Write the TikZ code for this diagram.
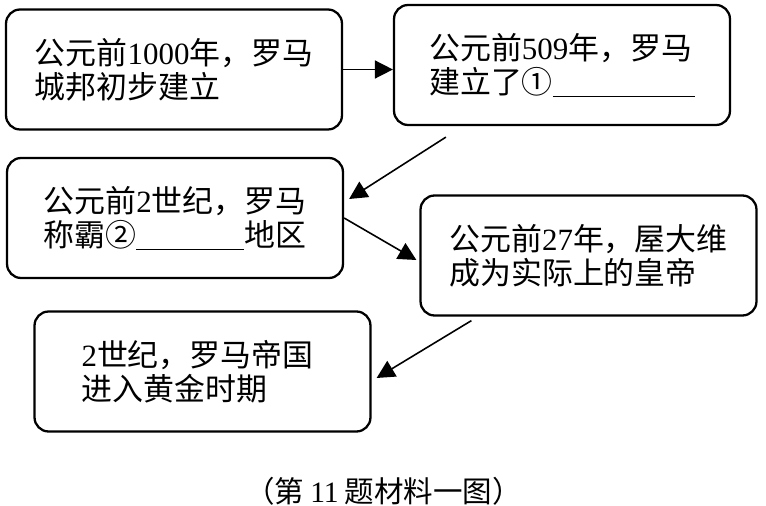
\documentclass[tikz,border=0pt]{standalone}
\usepackage{fontspec}
\setmainfont{Liberation Serif}
\newfontfamily\cjk{Noto Sans CJK SC}
\usetikzlibrary{arrows.meta,calc}

\begin{document}
\begin{tikzpicture}[x=0.02cm,y=-0.02cm,
  font=\fontsize{17.6}{19.4}\selectfont,
  event/.style={draw=black,line width=1.3pt,rounded corners=8pt,fill=white,
                minimum width=6.72cm,minimum height=2.4cm,align=left},
  flow/.style={-{Triangle[length=0.36cm,width=0.36cm]},line width=0.9pt}]
  \useasboundingbox (0,0) rectangle (766,506);
  % timeline boxes
  \node[event] (b1) at (174,69.5)
       {{\cjk 公元前}1000{\cjk 年，罗马}\\{\cjk 城邦初步建立}};
  \node[event] (b2) at (562,65)
       {{\cjk 公元前}509{\cjk 年，罗马}\\{\cjk 建立了①}\rule[-1.5pt]{2.84cm}{0.5pt}};
  \node[event] (b3) at (175,218)
       {{\cjk 公元前}2{\cjk 世纪，罗马}\\{\cjk 称霸②}\rule[-1.5pt]{2.16cm}{0.5pt}{\cjk 地区}};
  \node[event] (b4) at (588.5,255.5)
       {{\cjk 公元前}27{\cjk 年，屋大维}\\{\cjk 成为实际上的皇帝}};
  \node[event] (b5) at (202.5,371.5)
       {2{\cjk 世纪，罗马帝国}\kern0.2cm\\{\cjk 进入黄金时期}};
  % arrows
  \coordinate (s23) at ($(b2.south west)+(53,11)$);
  \coordinate (e23) at ($(b3.east)+(5,-19)$);
  \coordinate (e34) at ($(b4.west)+(-3,4.5)$);
  \coordinate (s45) at ($(b4.south west)+(52,4)$);
  \coordinate (e45) at ($(b5.east)+(5,6.5)$);
  \draw[flow] (b1.east) -- (b1.east -| b2.west);
  \draw[flow] (s23) -- (e23);
  \draw[flow] (b3.east) -- (e34);
  \draw[flow] (s45) -- (e45);
  % caption
  \node[font=\fontsize{16.8}{18}\selectfont] (cap) at (383.5,491)
       {{\cjk （第}\hspace{0.12cm}11\hspace{0.12cm}{\cjk 题材料一图）}};
\end{tikzpicture}
\end{document}
